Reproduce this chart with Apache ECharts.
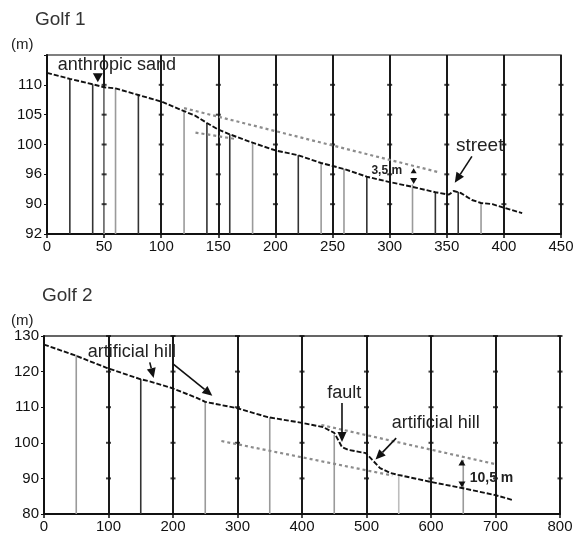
<!DOCTYPE html>
<html>
<head>
<meta charset="UTF-8">
<title>Golf 1 / Golf 2</title>
<script src="https://cdn.jsdelivr.net/npm/echarts@6/dist/echarts.min.js"></script>
<style>
  html, body { margin: 0; padding: 0; background: #fff; }
  #chart { width: 577px; height: 535px; }
</style>
</head>
<body>
<div id="chart"></div>
<script>
// ---- Golf 1 data ----
const yTicks1 = [85, 90, 95, 100, 105, 110];
const yLabels1 = ['92', '90', '96', '100', '105', '110'];   // as printed
const gridX1 = [50, 100, 150, 200, 250, 300, 350, 400, 450];
const profile1 = [[0, 112.0], [20, 111.0], [40, 110.1], [50, 109.6], [60, 109.4], [80, 108.3],
  [100, 107.2], [120, 105.6], [130, 104.8], [140, 103.6], [150, 102.5], [160, 101.7], [180, 100.3],
  [200, 99.0], [220, 98.2], [240, 96.9], [260, 95.9], [280, 94.6], [300, 93.7], [320, 92.9],
  [340, 92.0], [352, 91.6], [356, 92.2], [362, 91.9], [372, 90.7], [380, 90.2], [390, 90.0],
  [400, 89.4], [416, 88.5]];
const upperDots1 = [[120, 106.1], [342, 95.4]];
const lowerDots1 = [[130, 102.0], [166, 100.9]];
const wellX1 = [20, 40, 50, 60, 80, 120, 140, 160, 180, 220, 240, 260, 280, 320, 340, 360, 380];
const wellTop1 = [111.0, 110.1, 109.6, 109.4, 108.3, 105.6, 103.6, 101.7, 100.3, 98.2, 96.9, 95.9, 94.6, 93.3, 92.0, 92.1, 90.2];
const wellShade1 = ['k', 'k', 'g', 'g', 'k', 'g', 'k', 'k', 'g', 'k', 'g', 'g', 'k', 'g', 'k', 'k', 'g'];

// ---- Golf 2 data ----
const yTicks2 = [80, 90, 100, 110, 120, 130];
const yLabels2 = ['80', '90', '100', '110', '120', '130'];
const gridX2 = [100, 200, 300, 400, 500, 600, 700, 800];
const profile2 = [[0, 127.6], [46, 124.7], [98, 121.0], [149, 117.9], [165, 117.2], [172, 116.8],
  [198, 115.4], [237, 112.6], [250, 111.5], [300, 109.7], [347, 107.2], [400, 105.6], [433, 104.4],
  [450, 102.8], [462, 98.8], [472, 98.0], [499, 97.1], [509, 95.2], [521, 92.9], [537, 91.5],
  [549, 91.0], [600, 89.0], [648, 87.3], [700, 85.3], [727, 83.9]];
const upperDots2 = [[430, 105.0], [700, 94.0]];
const lowerDots2 = [[275, 100.5], [540, 90.8]];
const wellX2 = [50, 150, 250, 350, 450, 550, 650];
const wellTop2 = [124.7, 117.9, 111.5, 107.2, 102.3, 91.0, 95.2];
const wellShade2 = ['g', 'k', 'g', 'g', 'g', 'l', 'g'];

const FONT = '"Liberation Sans", Arial, sans-serif';
const shadeColor = { k: '#333', g: '#9a9a9a', l: '#bdbdbd' };

function tickMarks(gx, ticks) {
  const out = [];
  gx.forEach(x => ticks.slice(1).forEach(y => out.push([x, y])));
  return out;
}

function wellsRender(base, shades) {
  return function (params, api) {
    const x = api.value(0);
    const p0 = api.coord([x, base]);
    const p1 = api.coord([x, api.value(1)]);
    return {
      type: 'line',
      shape: { x1: p0[0], y1: p0[1], x2: p1[0], y2: p1[1] },
      style: { stroke: shadeColor[shades[params.dataIndex]], lineWidth: 1.6 }
    };
  };
}

function xAxisOf(idx, max) {
  return {
    type: 'value', gridIndex: idx, min: 0, max: max, interval: max === 450 ? 50 : 100,
    axisLine: { onZero: false, lineStyle: { color: '#111', width: 2 } },
    axisTick: { length: 4, lineStyle: { color: '#111', width: 1.5 } },
    axisLabel: { color: '#111', fontSize: 15, fontFamily: FONT, margin: 5 },
    splitLine: { show: true, lineStyle: { color: '#1a1a1a', width: 2 } }
  };
}

function yAxisOf(idx, min, max, interval, ticks, labels) {
  return {
    type: 'value', gridIndex: idx, min: min, max: max, interval: interval,
    axisLine: { show: true, lineStyle: { color: '#111', width: 2 } },
    axisTick: { show: true, length: 3, lineStyle: { color: '#111' } },
    axisLabel: {
      color: '#111', fontSize: 15, fontFamily: FONT, margin: 5,
      formatter: v => { const i = ticks.indexOf(v); return i >= 0 ? labels[i] : ''; }
    },
    splitLine: { show: false }
  };
}

const profileStyle = { color: '#111', width: 1.9, type: [5, 2] };
const dotStyle = { color: '#8c8c8c', width: 2.2, type: [3, 3] };

const chart = echarts.init(document.getElementById('chart'));
chart.setOption({
  animation: false,
  backgroundColor: '#fff',
  grid: [
    { left: 47, top: 55, width: 514, height: 179, show: true, borderColor: '#555', borderWidth: 1.5 },
    { left: 44, top: 336, width: 516, height: 178, show: true, borderColor: '#333', borderWidth: 1.5 }
  ],
  xAxis: [xAxisOf(0, 450), xAxisOf(1, 800)],
  yAxis: [yAxisOf(0, 85, 115, 5, yTicks1, yLabels1), yAxisOf(1, 80, 130, 10, yTicks2, yLabels2)],
  series: [
    { type: 'custom', xAxisIndex: 0, yAxisIndex: 0, renderItem: wellsRender(85, wellShade1),
      data: wellX1.map((x, i) => [x, wellTop1[i]]), z: 2 },
    { type: 'scatter', xAxisIndex: 0, yAxisIndex: 0, symbol: 'rect', symbolSize: [5, 2],
      itemStyle: { color: '#111' }, data: tickMarks(gridX1, yTicks1), z: 3 },
    { type: 'line', xAxisIndex: 0, yAxisIndex: 0, data: upperDots1, showSymbol: false, lineStyle: dotStyle, z: 4 },
    { type: 'line', xAxisIndex: 0, yAxisIndex: 0, data: lowerDots1, showSymbol: false, lineStyle: dotStyle, z: 4 },
    { type: 'line', xAxisIndex: 0, yAxisIndex: 0, data: profile1, showSymbol: false, lineStyle: profileStyle, z: 5 },

    { type: 'custom', xAxisIndex: 1, yAxisIndex: 1, renderItem: wellsRender(80, wellShade2),
      data: wellX2.map((x, i) => [x, wellTop2[i]]), z: 2 },
    { type: 'scatter', xAxisIndex: 1, yAxisIndex: 1, symbol: 'rect', symbolSize: [5, 2],
      itemStyle: { color: '#111' }, data: tickMarks(gridX2, yTicks2), z: 3 },
    { type: 'line', xAxisIndex: 1, yAxisIndex: 1, data: upperDots2, showSymbol: false, lineStyle: dotStyle, z: 4 },
    { type: 'line', xAxisIndex: 1, yAxisIndex: 1, data: lowerDots2, showSymbol: false, lineStyle: dotStyle, z: 4 },
    { type: 'line', xAxisIndex: 1, yAxisIndex: 1, data: profile2, showSymbol: false, lineStyle: profileStyle, z: 5 }
  ]
});

// annotations, placed in data coordinates
function px(g, p) { return chart.convertToPixel({ gridIndex: g }, p); }

function label(g, p, text, size, bold) {
  const q = px(g, p);
  return { type: 'text', x: q[0], y: q[1], z: 10,
    style: { text: text, fill: '#222', font: (bold ? 'bold ' : '') + size + 'px ' + FONT,
      textAlign: 'left', textVerticalAlign: 'middle' } };
}

function tri(g, p, down, w, h) {
  const q = px(g, p);
  const s = down ? 1 : -1;
  return { type: 'polygon', z: 10,
    shape: { points: [[q[0] - w / 2, q[1] - s * h / 2], [q[0] + w / 2, q[1] - s * h / 2], [q[0], q[1] + s * h / 2]] },
    style: { fill: '#111' } };
}

function arrow(g, a, b) {
  const p = px(g, a), q = px(g, b);
  const dx = q[0] - p[0], dy = q[1] - p[1], len = Math.hypot(dx, dy);
  const ux = dx / len, uy = dy / len, L = 10, W = 4.5;
  const bx = q[0] - ux * L, by = q[1] - uy * L;
  return [
    { type: 'line', z: 10, shape: { x1: p[0], y1: p[1], x2: bx, y2: by }, style: { stroke: '#111', lineWidth: 1.6 } },
    { type: 'polygon', z: 10, shape: { points: [[q[0], q[1]], [bx - uy * W, by + ux * W], [bx + uy * W, by - ux * W]] },
      style: { fill: '#111' } }
  ];
}

const titleFont = 19;
chart.setOption({
  graphic: [
    { type: 'text', left: 35, top: 10, style: { text: 'Golf 1', fill: '#333', font: titleFont + 'px ' + FONT } },
    { type: 'text', left: 11, top: 37, style: { text: '(m)', fill: '#222', font: '15px ' + FONT } },
    { type: 'text', left: 42, top: 286, style: { text: 'Golf 2', fill: '#333', font: titleFont + 'px ' + FONT } },
    { type: 'text', left: 11, top: 313, style: { text: '(m)', fill: '#222', font: '15px ' + FONT } },

    label(0, [9.5, 113.3], 'anthropic sand', 18),
    tri(0, [44.5, 111.2], true, 10, 9),
    label(0, [284, 95.6], '3,5 m', 12, true),
    tri(0, [321, 95.6], false, 6, 5),
    tri(0, [321, 93.9], true, 7, 6),
    label(0, [358, 99.8], 'street', 19),
    ...arrow(0, [372, 98.0], [357, 93.6]),

    label(1, [68, 125.5], 'artificial hill', 18),
    ...arrow(1, [164, 122.6], [170, 118.2]),
    ...arrow(1, [200, 122.2], [261, 113.2]),
    label(1, [439, 114.0], 'fault', 18),
    ...arrow(1, [462, 111.2], [462, 100.2]),
    label(1, [539, 105.6], 'artificial hill', 18),
    ...arrow(1, [546, 101.3], [514, 95.3]),
    tri(1, [648, 94.5], false, 7, 6),
    tri(1, [648, 88.3], true, 7, 6),
    label(1, [660, 90.1], '10,5 m', 14, true)
  ]
});
</script>
</body>
</html>
